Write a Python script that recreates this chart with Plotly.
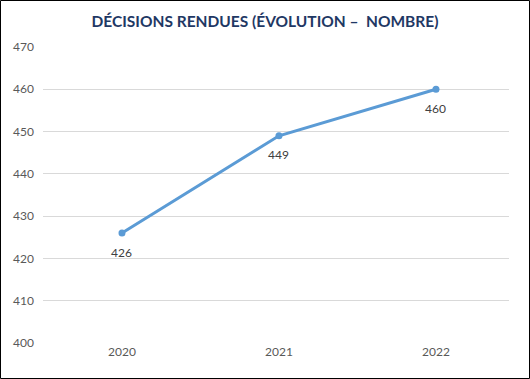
import plotly.graph_objects as go

years = ["2020", "2021", "2022"]
decisions = [426, 449, 460]
y_ticks = [400, 410, 420, 430, 440, 450, 460, 470]

W, H = 530, 379
L, R, T, B = 43, 21, 47, 36
pw, ph = W - L - R, H - T - B

fig = go.Figure()
fig.add_trace(go.Scatter(
    x=years, y=decisions, mode="lines+markers",
    line=dict(color="#5B9BD5", width=3),
    marker=dict(color="#5B9BD5", size=7),
    cliponaxis=False, hoverinfo="skip",
))

for i, v in enumerate(decisions):
    fig.add_annotation(x=i, y=v, xref="x", yref="y", text=str(v), showarrow=False, yshift=-19,
                       font=dict(family="Lato, Arial, sans-serif", size=12, color="#404040"))

fig.update_layout(
    width=W, height=H,
    margin=dict(l=L, r=R, t=T, b=B),
    paper_bgcolor="white", plot_bgcolor="white",
    showlegend=False,
    title=dict(text="<b>DÉCISIONS RENDUES (ÉVOLUTION –  NOMBRE)</b>",
               x=0.5, xanchor="center", y=1 - 22 / H, yanchor="middle",
               font=dict(family="Lato, Arial, sans-serif", size=15.5, color="#1F3864")),
    xaxis=dict(type="category", range=[-0.503, 2.465], showgrid=False, zeroline=False,
               showline=False, ticks="",
               tickfont=dict(family="Lato, Arial, sans-serif", size=12, color="#595959")),
    yaxis=dict(range=[400, 470], tickvals=y_ticks, showgrid=True, gridcolor="#D9D9D9",
               gridwidth=1, zeroline=False, showline=False, ticks="",
               ticklabelstandoff=8,
               tickfont=dict(family="Lato, Arial, sans-serif", size=12, color="#595959")),
)

fig.add_shape(type="rect", xref="paper", yref="paper",
              x0=(0.5 - L) / pw, x1=(W - 0.5 - L) / pw,
              y0=(T + ph - (H - 0.5)) / ph, y1=(T + ph - 0.5) / ph,
              line=dict(color="black", width=1), layer="above")

fig.write_html("out.html", config={"displayModeBar": False},
               post_script="document.body.style.margin='0';document.body.style.overflow='hidden';")
